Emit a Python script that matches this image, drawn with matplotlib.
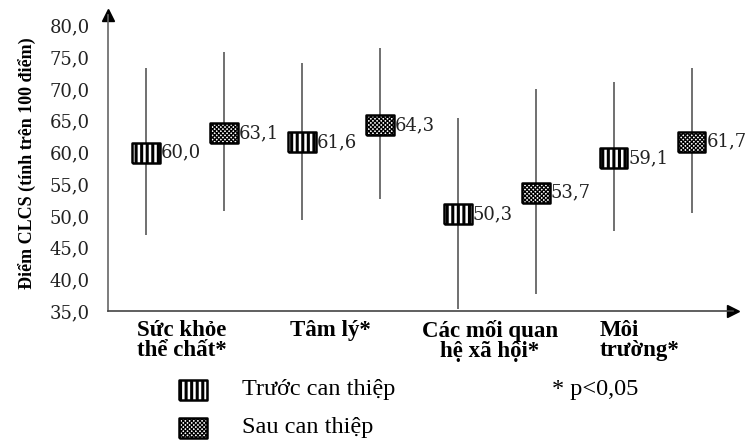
import matplotlib.pyplot as plt
import numpy as np

# data
groups = ['Sức khỏe\nthể chất*', 'Tâm lý*', 'Các mối quan\nhệ xã hội*', 'Môi\ntrường*']
before_mean = [60.0, 61.6, 50.3, 59.1]
before_low = [47.0, 49.4, 35.3, 47.7]
before_high = [73.3, 74.2, 65.5, 71.1]
after_mean = [63.1, 64.3, 53.7, 61.7]
after_low = [50.8, 52.6, 37.7, 50.5]
after_high = [75.8, 76.5, 70.0, 73.3]
yticks = [35, 40, 45, 50, 55, 60, 65, 70, 75, 80]

fig = plt.figure(figsize=(7.51, 4.40), dpi=100)
ax = fig.add_axes([0.1438, 0.293, 0.832, 0.673])

n = len(groups)
xb = np.arange(n) * 2.0
xa = xb + 1.0

box = [(-1, -0.72), (1, -0.72), (1, 0.72), (-1, 0.72), (-1, -0.72)]
HB = '|||'
HA = 'xxxxxxxx'
num_font = 'DejaVu Serif'


def markers(axis, x, y, hatch, **kw):
    lw = 2.2 if hatch == HB else 0.9
    with plt.rc_context({'hatch.linewidth': lw}):
        axis.scatter(x, y, marker=box, s=400, facecolor='white', edgecolor='black',
                     linewidths=1.8, hatch=hatch, zorder=3, **kw)


def draw(x, mean, low, high, hatch):
    ax.vlines(x, low, high, color='#707070', lw=1.4, zorder=1)
    markers(ax, x, mean, hatch)
    for xi, m in zip(x, mean):
        ax.annotate(f'{m:.1f}'.replace('.', ','), (xi, m), xytext=(11, 0),
                    textcoords='offset points', va='center', ha='left',
                    fontsize=13, family=num_font, color='#222222')

draw(xb, before_mean, before_low, before_high, HB)
draw(xa, after_mean, after_low, after_high, HA)

ax.set_xlim(-0.487, 7.53)
ax.set_ylim(35, 81.7)
ax.set_yticks(yticks)
ax.set_yticklabels([f'{v:.1f}'.replace('.', ',') for v in yticks],
                   family=num_font, fontsize=13, color='#222222')
ax.tick_params(axis='y', length=0, pad=13)
ax.set_xticks([])
for s in ['top', 'right']:
    ax.spines[s].set_visible(False)
ax.spines['left'].set_color('#666666')
ax.spines['bottom'].set_color('#444444')
ax.spines['left'].set_linewidth(1.2)
ax.spines['bottom'].set_linewidth(1.2)
ax.plot(0, 1, marker='^', color='black', ms=8, transform=ax.transAxes, clip_on=False)
ax.plot(1, 0, marker='>', color='black', ms=8, transform=ax.transAxes, clip_on=False)

ax.set_ylabel('Điểm CLCS (tính trên 100 điểm)', family='Liberation Serif',
              fontweight='bold', fontsize=13, labelpad=9)

# category labels
label_x = [-0.12, 1.85, 4.41, 5.82]
for lx, g, al in zip(label_x, groups, ['left', 'left', 'center', 'left']):
    ax.text(lx, -0.03, g, transform=ax.get_xaxis_transform(), ha=al, va='top',
            multialignment=al, family='Liberation Serif', fontweight='bold',
            fontsize=16.5, linespacing=0.92)

# legend
lax = fig.add_axes([0, 0, 1, 1], facecolor='none')
lax.set_xlim(0, 751)
lax.set_ylim(440, 0)
lax.axis('off')
markers(lax, [193], [390], HB)
markers(lax, [193], [428], HA)
leg_font = dict(va='center', ha='left', family='Liberation Serif', fontsize=17.5)
lax.text(242, 390, 'Trước can thiệp', **leg_font)
lax.text(242, 428, 'Sau can thiệp', **leg_font)
lax.text(552, 390, '* p<0,05', **leg_font)

fig.savefig('out.png', dpi=100)
